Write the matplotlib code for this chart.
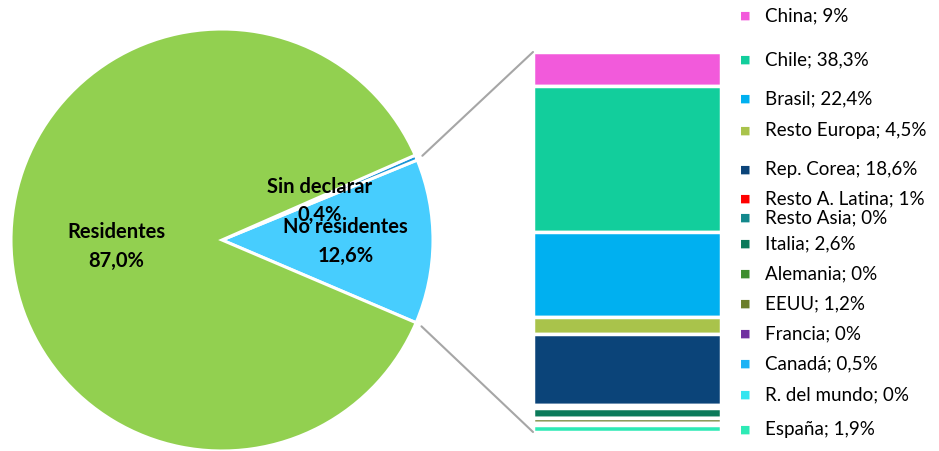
import numpy as np
import matplotlib.pyplot as plt
from matplotlib.patches import ConnectionPatch

plt.rcParams['font.family'] = ['Lato', 'DejaVu Sans']

# pie
pie_labels = ['No residentes', 'Sin declarar', 'Residentes']
pie_values = [12.6, 0.4, 87.0]
pie_colors = ['#47CDFE', '#1B95D6', '#92D050']

# detalle de no residentes
paises = ['China', 'Chile', 'Brasil', 'Resto Europa', 'Rep. Corea', 'Resto A. Latina',
          'Resto Asia', 'Italia', 'Alemania', 'EEUU', 'Francia', 'Canadá',
          'R. del mundo', 'España']
valores = [9, 38.3, 22.4, 4.5, 18.6, 1, 0, 2.6, 0, 1.2, 0, 0.5, 0, 1.9]
etiquetas = ['9%', '38,3%', '22,4%', '4,5%', '18,6%', '1%', '0%', '2,6%', '0%',
             '1,2%', '0%', '0,5%', '0%', '1,9%']
colores = ['#F25ADB', '#12CE9C', '#00B0F0', '#A9C34B', '#0B4479', '#FF0000',
           '#13888C', '#0B7A5A', '#3E8E2E', '#6B7E2A', '#7030A0', '#1AB2F5',
           '#33E5F0', '#2DEAB5']

W, H = 939, 452
fig = plt.figure(figsize=(W/100, H/100), dpi=100)

# pie axes: centro (222,241), radio 211 px
R = 211
ax1 = fig.add_axes([(222-R)/W, (H-241-R)/H, 2*R/W, 2*R/H])
start = -pie_values[0]/100*360/2 - 0.4
wedges, _ = ax1.pie(pie_values, colors=pie_colors, startangle=start, radius=1,
                    wedgeprops=dict(edgecolor='white', linewidth=2.2))
ax1.set_xlim(-1, 1)
ax1.set_ylim(-1, 1)
ax1.set_aspect('equal')
ax1.axis('off')

bold = dict(ha='center', va='center', fontsize=14.5, fontweight='bold', linespacing=1.55)
ax1.text(-0.502, -0.026, 'Residentes\n87,0%', **bold)
ax1.text(0.462, 0.19, 'Sin declarar\n0,4%', **bold)
ax1.text(0.585, -0.002, 'No residentes\n12,6%', **bold)

# bar axes
x0, x1, y0, y1 = 533, 721, 53, 433
ax2 = fig.add_axes([x0/W, (H-y1)/H, (x1-x0)/W, (y1-y0)/H])
bottom = 0
for v, c in zip(valores, colores):
    ax2.bar(0, v, bottom=bottom, width=1, color=c, edgecolor='white', linewidth=2.5)
    bottom += v
ax2.set_xlim(-0.5, 0.5)
ax2.set_ylim(100, 0)
ax2.axis('off')

# lineas de conexion
for ang, yb in [(22.8, 0), (-23.4, 100)]:
    r = 1.03
    pt = (r*np.cos(np.radians(ang)), r*np.sin(np.radians(ang)))
    con = ConnectionPatch(xyA=pt, coordsA=ax1.transData, xyB=(-0.5, yb),
                          coordsB=ax2.transData, color='#A6A6A6', linewidth=1.5)
    fig.add_artist(con)

# leyenda
legend_y = [16, 60, 99, 131, 170, 199, 218, 244, 274, 304, 334, 364, 395, 430]
for p, e, c, yy in zip(paises, etiquetas, colores, legend_y):
    fig.text(745/W, 1 - yy/H, '\u25A0', color=c, fontsize=8, ha='center', va='center',
             family='DejaVu Sans')
    fig.text(765/W, 1 - yy/H, p + '; ' + e, fontsize=13.5, ha='left', va='center')

fig.savefig('out.png', dpi=100)
